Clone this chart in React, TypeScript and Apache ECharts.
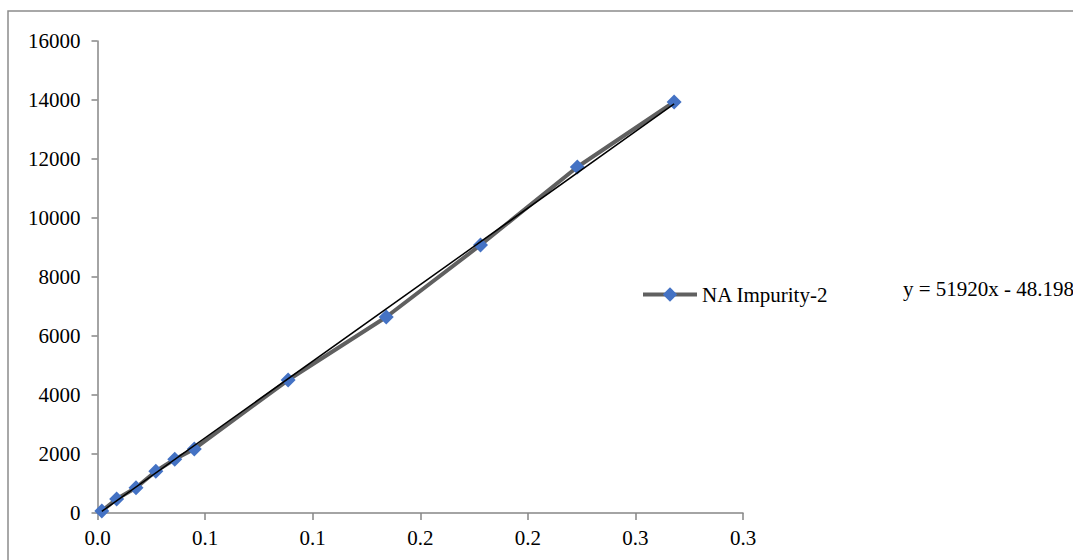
import React, { useEffect, useRef } from "react";
import * as echarts from "echarts";

const seriesName = "NA Impurity-2";
const concentrations = [0.002, 0.0089, 0.0179, 0.0271, 0.0359, 0.045, 0.0886, 0.1342, 0.178, 0.223, 0.268];
const areas = [68, 475, 858, 1414, 1820, 2170, 4508, 6644, 9085, 11729, 13933];
const xTickLabels = ["0.0", "0.1", "0.1", "0.2", "0.2", "0.3", "0.3"];
const trendSlope = 51920;
const trendIntercept = -48.198;
const equationText = "y = 51920x - 48.198";

const FONT = "'Liberation Serif', 'Times New Roman', serif";

export default function App() {
  const ref = useRef<HTMLDivElement>(null);
  useEffect(() => {
    if (!ref.current) return;
    const chart = echarts.init(ref.current, undefined, { renderer: "svg" });
    const pts = concentrations.map((x, i) => [x, areas[i]]);
    const xMin = Math.min(...concentrations);
    const xMax = Math.max(...concentrations);
    const trend = [xMin, xMax].map((x) => [x, trendSlope * x + trendIntercept]);
    chart.setOption({
      animation: false,
      backgroundColor: "#ffffff",
      textStyle: { fontFamily: FONT },
      grid: { left: 97.5, right: 330, top: 41, bottom: 47, containLabel: false },
      legend: {
        data: [seriesName],
        left: 636,
        top: 279,
        itemWidth: 54,
        itemHeight: 18,
        itemGap: 6,
        lineStyle: { width: 4, color: "#606060" },
        textStyle: { fontFamily: FONT, fontSize: 21, color: "#000" },
      },
      xAxis: {
        type: "value",
        min: 0,
        max: 0.3,
        interval: 0.05,
        splitLine: { show: false },
        axisLine: { show: true, lineStyle: { color: "#868686", width: 1.5 } },
        axisTick: { show: true, length: 7, lineStyle: { color: "#868686", width: 1.5 } },
        axisLabel: {
          margin: 14,
          fontFamily: FONT,
          fontSize: 21,
          color: "#000",
          formatter: (v: number) => xTickLabels[Math.round(v / 0.05)] ?? "",
        },
      },
      yAxis: {
        type: "value",
        min: 0,
        max: 16000,
        interval: 2000,
        splitLine: { show: false },
        axisLine: { show: true, lineStyle: { color: "#868686", width: 1.5 } },
        axisTick: { show: true, length: 6, lineStyle: { color: "#868686", width: 1.5 } },
        axisLabel: {
          margin: 17,
          fontFamily: FONT,
          fontSize: 21,
          color: "#000",
          formatter: (v: number) => String(v),
        },
      },
      graphic: [
        {
          type: "rect",
          shape: { x: 8, y: 11, width: 1200, height: 700 },
          style: { fill: "none", stroke: "#8c8c8c", lineWidth: 1.5 },
          silent: true,
        },
        {
          type: "text",
          x: 903,
          y: 289,
          style: {
            text: equationText,
            font: `21px ${FONT}`,
            fill: "#000",
            verticalAlign: "middle",
            align: "left",
          },
          silent: true,
        },
      ],
      series: [
        {
          name: seriesName,
          type: "line",
          data: pts,
          symbol: "diamond",
          symbolSize: 15,
          lineStyle: { color: "#606060", width: 4 },
          itemStyle: { color: "#4472C4" },
          z: 2,
        },
        {
          name: "Linear trend",
          type: "line",
          data: trend,
          symbol: "none",
          lineStyle: { color: "#000000", width: 1.5 },
          z: 3,
        },
      ],
    });
    return () => chart.dispose();
  }, []);
  return (
    <div
      ref={ref}
      style={{ position: "fixed", left: 0, top: 0, width: 1073, height: 560 }}
    />
  );
}
